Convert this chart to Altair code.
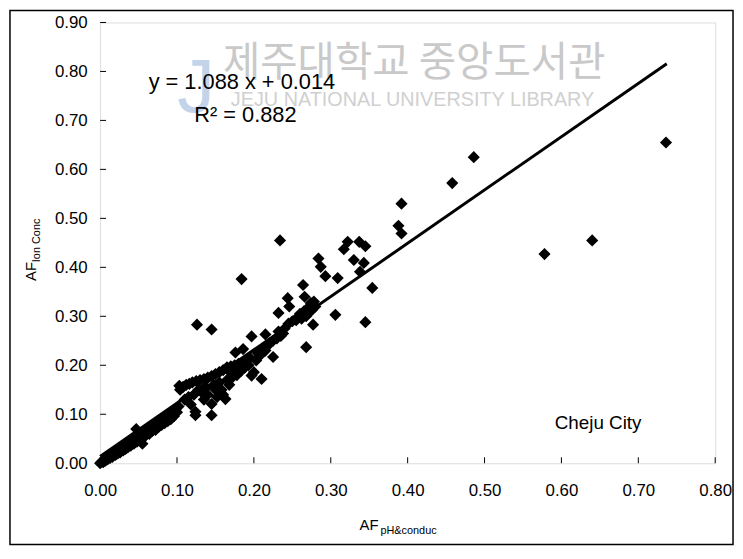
import altair as alt
import pandas as pd

# scatter data (AF pH&conduc vs AF Ion Conc)
xs = [0.000, 0.002, 0.004, 0.005, 0.007, 0.008, 0.010, 0.012, 0.013, 0.015, 0.016, 0.018,
      0.020, 0.021, 0.023, 0.025, 0.026, 0.028, 0.030, 0.031, 0.033, 0.035, 0.036, 0.038,
      0.040, 0.042, 0.044, 0.046, 0.047, 0.048, 0.050, 0.052, 0.053, 0.055, 0.056, 0.058,
      0.060, 0.062, 0.064, 0.066, 0.068, 0.070, 0.072, 0.074, 0.076, 0.078, 0.080, 0.082,
      0.084, 0.086, 0.088, 0.090, 0.092, 0.094, 0.096, 0.098, 0.100, 0.102, 0.103, 0.104,
      0.108, 0.112, 0.116, 0.120, 0.125, 0.130, 0.135, 0.140, 0.145, 0.150, 0.155, 0.160,
      0.165, 0.170, 0.175, 0.180, 0.110, 0.115, 0.118, 0.122, 0.124, 0.124, 0.128, 0.132,
      0.135, 0.138, 0.140, 0.145, 0.145, 0.148, 0.150, 0.152, 0.155, 0.158, 0.160, 0.163,
      0.165, 0.168, 0.170, 0.172, 0.175, 0.178, 0.180, 0.183, 0.185, 0.188, 0.190, 0.193,
      0.195, 0.197, 0.200, 0.203, 0.205, 0.208, 0.210, 0.212, 0.215, 0.218, 0.220, 0.176,
      0.186, 0.197, 0.215, 0.232, 0.225, 0.225, 0.230, 0.235, 0.238, 0.240, 0.245, 0.250,
      0.255, 0.258, 0.260, 0.262, 0.265, 0.268, 0.270, 0.272, 0.275, 0.278, 0.280,
      0.126, 0.145, 0.184, 0.234, 0.232, 0.244, 0.246, 0.264, 0.266, 0.268, 0.274, 0.277,
      0.284, 0.287, 0.293, 0.306, 0.309, 0.317, 0.322, 0.330, 0.337, 0.338, 0.343, 0.345,
      0.345, 0.354, 0.388, 0.392, 0.392, 0.458, 0.486, 0.578, 0.640, 0.736]
ys = [0.000, 0.003, 0.002, 0.006, 0.005, 0.010, 0.008, 0.014, 0.011, 0.018, 0.013, 0.020,
      0.017, 0.024, 0.020, 0.028, 0.022, 0.031, 0.026, 0.035, 0.029, 0.038, 0.032, 0.042,
      0.036, 0.046, 0.040, 0.050, 0.070, 0.044, 0.054, 0.048, 0.060, 0.040, 0.052, 0.064,
      0.058, 0.068, 0.060, 0.072, 0.066, 0.076, 0.068, 0.082, 0.074, 0.086, 0.078, 0.090,
      0.082, 0.094, 0.086, 0.100, 0.090, 0.104, 0.096, 0.110, 0.104, 0.116, 0.158, 0.150,
      0.156, 0.160, 0.162, 0.165, 0.168, 0.170, 0.172, 0.175, 0.178, 0.182, 0.186, 0.190,
      0.196, 0.198, 0.200, 0.203, 0.130, 0.135, 0.120, 0.140, 0.105, 0.098, 0.150, 0.145,
      0.130, 0.155, 0.140, 0.121, 0.098, 0.160, 0.150, 0.135, 0.165, 0.150, 0.140, 0.131,
      0.170, 0.160, 0.185, 0.175, 0.190, 0.180, 0.195, 0.188, 0.205, 0.195, 0.210, 0.200,
      0.215, 0.179, 0.186, 0.210, 0.225, 0.220, 0.172, 0.235, 0.230, 0.240, 0.245, 0.226,
      0.233, 0.259, 0.263, 0.269, 0.217, 0.250, 0.255, 0.260, 0.265, 0.275, 0.285, 0.290,
      0.292, 0.300, 0.305, 0.295, 0.310, 0.300, 0.315, 0.320, 0.312, 0.330, 0.320,
      0.283, 0.273, 0.376, 0.455, 0.307, 0.337, 0.320, 0.364, 0.340, 0.237, 0.327, 0.283,
      0.418, 0.401, 0.382, 0.303, 0.378, 0.437, 0.452, 0.415, 0.452, 0.391, 0.409, 0.443,
      0.288, 0.358, 0.485, 0.469, 0.530, 0.572, 0.625, 0.427, 0.455, 0.655]

slope = 1.088
intercept = 0.014
line_x = [0.0, 0.737]

x_ticks = [0.0, 0.1, 0.2, 0.3, 0.4, 0.5, 0.6, 0.7, 0.8]
y_ticks = [0.0, 0.1, 0.2, 0.3, 0.4, 0.5, 0.6, 0.7, 0.8, 0.9]

pts = pd.DataFrame({"x": xs, "y": ys})
ln = pd.DataFrame({"x": line_x, "y": [slope * v + intercept for v in line_x]})
xt = pd.DataFrame({"v": x_ticks})
yt = pd.DataFrame({"v": y_ticks})

W, H = 621, 445
FONT = "Liberation Sans"

xscale = alt.Scale(domain=[0, 0.8], nice=False, zero=False)
yscale = alt.Scale(domain=[0, 0.9], nice=False, zero=False)

xaxis = alt.Axis(values=x_ticks, format=".2f", title=None, grid=False, domain=False,
                 ticks=False, labelPadding=20, labelFontSize=17, labelFont=FONT,
                 labelColor="black", labelFlush=False, labelOverlap=False)
yaxis = alt.Axis(values=y_ticks, format=".2f", title=None, grid=False, domain=False,
                 ticks=False, labelPadding=13, labelFontSize=17, labelFont=FONT,
                 labelColor="black", labelFlush=False, labelOverlap=False)

scatter = alt.Chart(pts).mark_point(shape="diamond", filled=True, color="black",
                                    opacity=1, size=150).encode(
    x=alt.X("x:Q", scale=xscale, axis=xaxis),
    y=alt.Y("y:Q", scale=yscale, axis=yaxis),
)

reg = alt.Chart(ln).mark_line(color="black", strokeWidth=3).encode(
    x=alt.X("x:Q", scale=xscale), y=alt.Y("y:Q", scale=yscale))

xtick = alt.Chart(xt).mark_rule(color="black", strokeWidth=1).encode(
    x=alt.X("v:Q", scale=xscale), y=alt.value(H), y2=alt.value(H - 6))
ytick = alt.Chart(yt).mark_rule(color="black", strokeWidth=1).encode(
    y=alt.Y("v:Q", scale=yscale), x=alt.value(0), x2=alt.value(6))

def txt(s, x, y, size, color="black", align="left", angle=0, baseline="alphabetic", font=FONT):
    return alt.Chart(pd.DataFrame({"t": [s]})).mark_text(
        font=font, fontSize=size, color=color, align=align, baseline=baseline, angle=angle
    ).encode(text="t:N", x=alt.value(x), y=alt.value(y))

# watermark
logo = txt("J", 78, 90, 76, color="#c3d3ea")
wm1 = txt("제주대학교 중앙도서관", 124, 54, 41, color="#c9c9c9", font="Noto Sans CJK KR")
wm2 = txt("JEJU NATIONAL UNIVERSITY   LIBRARY", 132, 84, 20, color="#d0d0d0")

eq1 = txt("y = 1.088 x + 0.014", 49, 67, 22)
eq2 = txt("R² = 0.882", 95, 100, 22)
city = txt("Cheju City", 459, 410, 19)

# axis titles with subscripts
xt1 = txt("AF", 262, 512, 15)
xt2 = txt("pH&conduc", 283, 516, 11)
yt1 = txt("AF", -65, 261, 15, angle=270)
yt2 = txt("Ion Conc", -61, 242, 11, angle=270)

border = alt.Chart(pd.DataFrame({"a": [0]})).mark_rect(
    filled=False, stroke="black", strokeWidth=1.5).encode(
    x=alt.value(-91), x2=alt.value(639), y=alt.value(-12), y2=alt.value(527))

chart = alt.layer(
    logo, wm1, wm2, border, reg, scatter, xtick, ytick, eq1, eq2, city, xt1, xt2, yt1, yt2
).properties(
    width=W, height=H,
    autosize=alt.AutoSizeParams(type="none"),
    padding={"left": 93, "top": 12, "right": 20, "bottom": 85},
).configure_view(stroke="black", strokeWidth=1.5).configure(background="white")

chart.save("out.html", embed_options={"renderer": "svg", "actions": False})
